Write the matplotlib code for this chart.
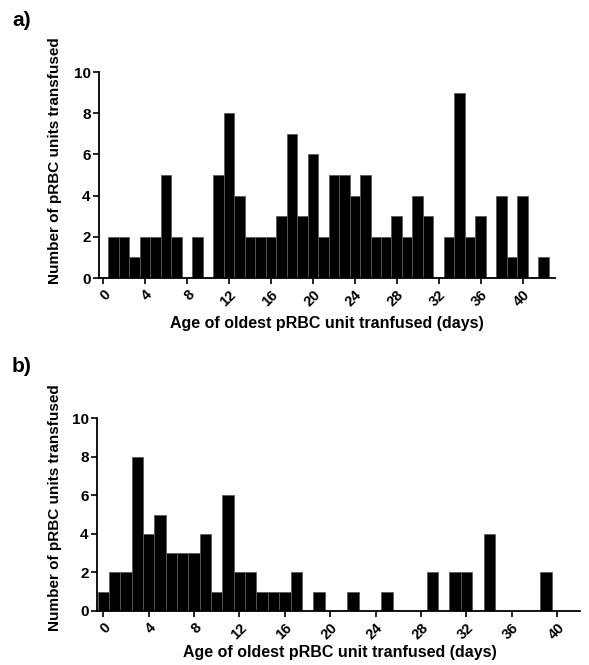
import numpy as np
import matplotlib
matplotlib.use("Agg")
import matplotlib.pyplot as plt

plt.rcParams["font.family"] = ["Liberation Sans", "DejaVu Sans"]
plt.rcParams["font.weight"] = "bold"

# panel a: days 1..42
days_a = list(range(1, 43))
counts_a = [2, 2, 1, 2, 2, 5, 2, 0, 2, 0, 5, 8, 4, 2, 2, 2, 3, 7, 3, 6, 2,
            5, 5, 4, 5, 2, 2, 3, 2, 4, 3, 0, 2, 9, 2, 3, 0, 4, 1, 4, 0, 1]

# panel b: days 0..39
days_b = list(range(0, 40))
counts_b = [1, 2, 2, 8, 4, 5, 3, 3, 3, 4, 1, 6, 2, 2, 1, 1, 1, 2, 0, 1,
            0, 0, 1, 0, 0, 1, 0, 0, 0, 2, 0, 2, 2, 0, 4, 0, 0, 0, 0, 2]

xticks = list(range(0, 41, 4))
yticks = list(range(0, 11, 2))
xlabel = "Age of oldest pRBC unit tranfused (days)"
ylabel = "Number of pRBC units transfused"

W, H = 589, 665
fig = plt.figure(figsize=(W / 100, H / 100), dpi=100)


def draw_panel(ax, days, counts, xlim):
    ax.bar(days, counts, width=1.0, color="black",
           edgecolor="#5a5a5a", linewidth=0.6, align="center")
    ax.set_xlim(*xlim)
    ax.set_ylim(0, 10)
    ax.set_xticks(xticks)
    ax.set_xticklabels([str(t) for t in xticks], rotation=45, ha="right",
                       rotation_mode="anchor", fontsize=10.5, fontweight="bold")
    ax.set_yticks(yticks)
    ax.set_yticklabels([str(t) for t in yticks], fontsize=11, fontweight="bold")
    for s in ["top", "right"]:
        ax.spines[s].set_visible(False)
    for s in ["left", "bottom"]:
        ax.spines[s].set_linewidth(1.3)
    ax.tick_params(axis="both", direction="out", length=4, width=1.2, pad=2)
    ax.tick_params(axis="x", pad=3)


# panel a
ax1 = fig.add_axes([99 / W, 1 - 278 / H, (555 - 99) / W, (278 - 72) / H])
draw_panel(ax1, days_a, counts_a, (-0.4, 43.1))
fig.text(327 / W, 1 - 323 / H, xlabel, ha="center", va="center",
         fontsize=11.5, fontweight="bold")
fig.text(55 / W, 1 - 161 / H, ylabel, ha="center", va="center",
         rotation=90, fontsize=11, fontweight="bold")
fig.text(12 / W, 1 - 20 / H, "a)", ha="left", va="center",
         fontsize=15, fontweight="bold")

# panel b
ax2 = fig.add_axes([97 / W, 1 - 611 / H, (580 - 97) / W, (611 - 418) / H])
draw_panel(ax2, days_b, counts_b, (-0.55, 42))
fig.text(340 / W, 1 - 653 / H, xlabel, ha="center", va="center",
         fontsize=11.5, fontweight="bold")
fig.text(55 / W, 1 - 508 / H, ylabel, ha="center", va="center",
         rotation=90, fontsize=11, fontweight="bold")
fig.text(12 / W, 1 - 367 / H, "b)", ha="left", va="center",
         fontsize=15, fontweight="bold")

fig.savefig("out.png", dpi=100)
